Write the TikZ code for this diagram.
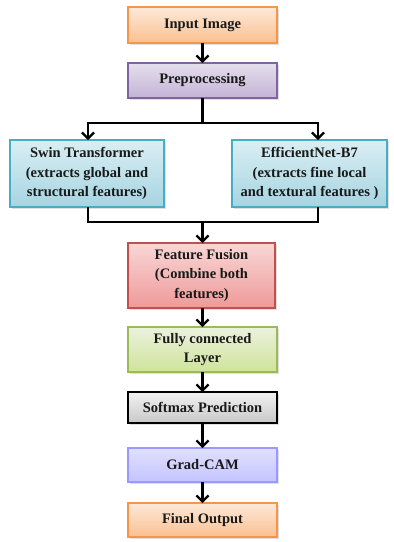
\documentclass[tikz,border=0pt]{standalone}
\usepackage{fontspec}
\setmainfont{Liberation Serif}
\usepackage{tikz}
\usetikzlibrary{arrows.meta, shadows}

\definecolor{orangeline}{HTML}{F79646}
\definecolor{orangetop}{HTML}{FDE9D9}
\definecolor{orangebot}{HTML}{FAC090}
\definecolor{purpline}{HTML}{8064A2}
\definecolor{purptop}{HTML}{E5DFEC}
\definecolor{purpbot}{HTML}{C3B3D6}
\definecolor{cyanline}{HTML}{4BACC6}
\definecolor{cyantop}{HTML}{DAEEF3}
\definecolor{cyanbot}{HTML}{A5D5E2}
\definecolor{redline}{HTML}{C0504D}
\definecolor{redtop}{HTML}{F8D7D6}
\definecolor{redbot}{HTML}{EE9A98}
\definecolor{greenline}{HTML}{9BBB59}
\definecolor{greentop}{HTML}{EBF1DE}
\definecolor{greenbot}{HTML}{CFE49A}
\definecolor{greytop}{HTML}{F2F2F2}
\definecolor{greybot}{HTML}{C8C8C8}
\definecolor{lilacline}{HTML}{9999FF}
\definecolor{lilactop}{HTML}{E0E0FF}
\definecolor{lilacbot}{HTML}{C4C4FF}

\begin{document}
\begin{tikzpicture}[x=1pt, y=-1pt,
    every node/.style={inner sep=0, outer sep=0},
    blk/.style={rectangle, line width=1.8pt, align=center, font=\fontsize{14.5}{19.5}\selectfont\bfseries,
      text=black!90, drop shadow={opacity=0.25, shadow xshift=2pt, shadow yshift=-2pt}},
    orangeblk/.style={blk, draw=orangeline, top color=orangetop, bottom color=orangebot},
    purpblk/.style={blk, draw=purpline, top color=purptop, bottom color=purpbot},
    cyanblk/.style={blk, draw=cyanline, top color=cyantop, bottom color=cyanbot},
    redblk/.style={blk, draw=redline, top color=redtop, bottom color=redbot},
    greenblk/.style={blk, draw=greenline, top color=greentop, bottom color=greenbot},
    greyblk/.style={blk, draw=black, line width=2.4pt, top color=greytop, bottom color=greybot},
    lilacblk/.style={blk, draw=lilacline, top color=lilactop, bottom color=lilacbot},
    link/.style={line width=2.2pt, black},
    flow/.style={link, -{Straight Barb[length=6pt, width=12pt]}}]
  \useasboundingbox (0,0) rectangle (394,542);
  \node [orangeblk, minimum width=149pt, minimum height=36pt] (inp) at (202.5,25) {Input Image};
  \node [purpblk, minimum width=149pt, minimum height=35pt] (pre) at (202.5,80.5) {Preprocessing};
  \node [cyanblk, minimum width=154pt, minimum height=67pt] (swin) at (87,173.5)
    {Swin Transformer\\(extracts global and\\structural features)};
  \node [cyanblk, minimum width=155pt, minimum height=67pt] (eff) at (309.5,173.5)
    {EfficientNet-B7\\(extracts fine local\\and textural features )};
  \node [redblk, minimum width=147pt, minimum height=65pt] (fuse) at (201.5,275.5)
    {Feature Fusion\\(Combine both\\features)};
  \node [greenblk, minimum width=149pt, minimum height=45pt] (fc) at (202.5,349.5)
    {Fully connected\\Layer};
  \node [greyblk, minimum width=149pt, minimum height=31pt] (soft) at (202.5,407.5) {Softmax Prediction};
  \node [lilacblk, minimum width=149pt, minimum height=34pt] (grad) at (202.5,465) {Grad-CAM};
  \node [orangeblk, minimum width=149pt, minimum height=34pt] (out) at (202.5,520) {Final Output};
  % branching
  \coordinate (split) at (202.5,123);
  \coordinate (merge) at (202.5,222);
  \draw [flow] (inp) -- (pre);
  \draw [link] (pre) -- (split);
  \draw [flow] (split) -| ([xshift=1pt]swin.north);
  \draw [flow] (split) -| ([xshift=8.5pt]eff.north);
  \draw [link] ([xshift=1pt]swin.south) |- (merge);
  \draw [link] ([xshift=8.5pt]eff.south) |- (merge);
  \draw [flow] (merge) -- (merge |- fuse.north);
  \draw [flow] (fuse.south -| fc) -- (fc);
  \draw [flow] (fc) -- (soft);
  \draw [flow] (soft) -- (grad);
  \draw [flow] (grad) -- (out);
\end{tikzpicture}
\end{document}
